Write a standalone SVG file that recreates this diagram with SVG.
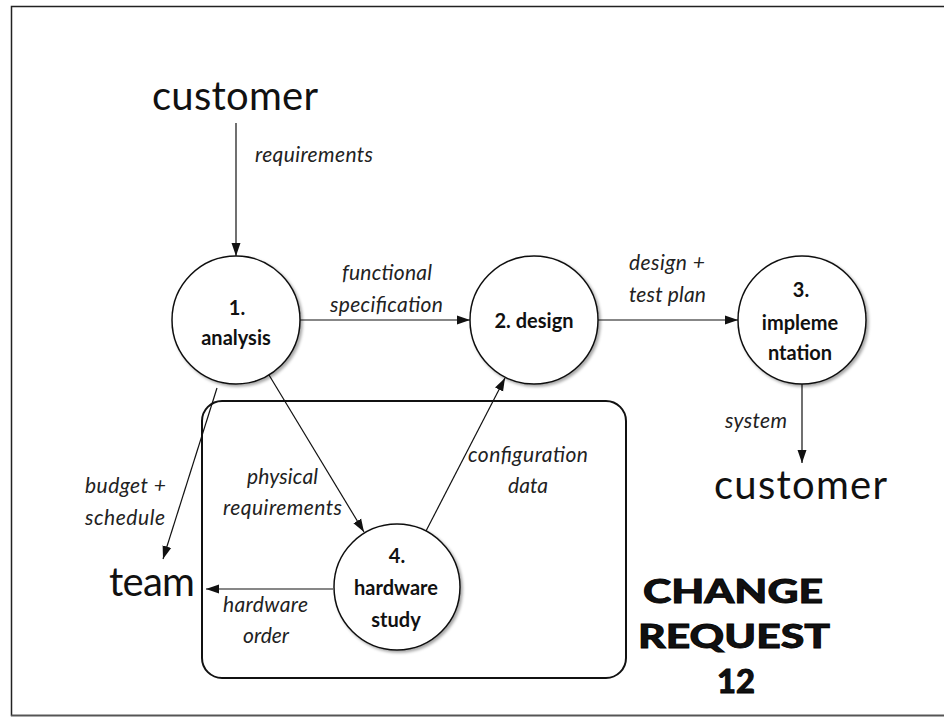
<svg xmlns="http://www.w3.org/2000/svg" width="944" height="717" viewBox="0 0 944 717">
<style>
  text { font-family: Lato, "Open Sans", "Liberation Sans", sans-serif; fill: #111; }
  .big { font-size: 40px; }
  .lbl { font-size: 21px; font-style: italic; fill: #222; }
  .nd { font-size: 20px; font-weight: bold; text-anchor: middle; }
  .cr { font-size: 33px; font-weight: 900; text-anchor: middle; stroke: #000; stroke-width: 0.8; }
  .circ { fill: #fff; stroke: #111; stroke-width: 1.5; filter: url(#sh); }
  .conn line { stroke: #111; stroke-width: 1.2; marker-end: url(#ah); }
</style>
<defs>
  <filter id="sh" x="-20%" y="-20%" width="140%" height="140%">
    <feDropShadow dx="2" dy="2" stdDeviation="1.5" flood-color="#000" flood-opacity="0.35"/>
  </filter>
  <marker id="ah" markerUnits="userSpaceOnUse" markerWidth="14" markerHeight="12" viewBox="0 0 14 12" refX="13" refY="6" orient="auto">
    <path d="M0,1.5 L13,6 L0,10.5 Z" fill="#111"/>
  </marker>
</defs>
<rect x="11.5" y="6.5" width="960" height="709" fill="none" stroke="#222" stroke-width="1.5"/>
<line x1="11" y1="715.5" x2="944" y2="715.5" stroke="#555" stroke-width="1.5"/>

<rect id="boundary" x="202" y="401" width="424" height="277" rx="20" ry="20" fill="none" stroke="#111" stroke-width="2"/>

<g class="conn" id="connectors">
  <line x1="236" y1="123" x2="236" y2="256"/>
  <line x1="300" y1="320" x2="470" y2="320"/>
  <line x1="598" y1="320" x2="738" y2="320"/>
  <line x1="802" y1="384" x2="802" y2="463"/>
  <line x1="269" y1="375" x2="364" y2="532"/>
  <line x1="217" y1="388" x2="163" y2="559"/>
  <line x1="426" y1="531" x2="505" y2="378"/>
  <line x1="333" y1="589" x2="206" y2="589"/>
</g>

<g id="labels">
  <text class="lbl" x="255" y="162" textLength="118" lengthAdjust="spacing">requirements</text>
  <text class="lbl" x="342" y="280" textLength="90" lengthAdjust="spacing">functional</text>
  <text class="lbl" x="330" y="312" textLength="113" lengthAdjust="spacing">specification</text>
  <text class="lbl" x="629" y="270" textLength="76" lengthAdjust="spacing">design +</text>
  <text class="lbl" x="629" y="302" textLength="77" lengthAdjust="spacing">test plan</text>
  <text class="lbl" x="725" y="428" textLength="62" lengthAdjust="spacing">system</text>
  <text class="lbl" x="247" y="484" textLength="71" lengthAdjust="spacing">physical</text>
  <text class="lbl" x="223" y="515" textLength="119" lengthAdjust="spacing">requirements</text>
  <text class="lbl" x="85" y="493" textLength="81" lengthAdjust="spacing">budget +</text>
  <text class="lbl" x="85" y="525" textLength="80" lengthAdjust="spacing">schedule</text>
  <text class="lbl" x="468" y="462" textLength="120" lengthAdjust="spacing">configuration</text>
  <text class="lbl" x="528" y="493" text-anchor="middle">data</text>
  <text class="lbl" x="223" y="612" textLength="85" lengthAdjust="spacing">hardware</text>
  <text class="lbl" x="266" y="643" text-anchor="middle">order</text>
</g>

<g id="customer-top"><text class="big" x="152" y="110" textLength="166" lengthAdjust="spacing">customer</text></g>
<g id="customer-bottom"><text class="big" x="714" y="499" textLength="173" lengthAdjust="spacing">customer</text></g>
<g id="team"><text class="big" x="109" y="596" textLength="86" lengthAdjust="spacing">team</text></g>

<g id="n1">
  <circle class="circ" cx="236" cy="320" r="64"/>
  <text class="nd" x="237" y="315">1.</text>
  <text class="nd" x="236" y="345">analysis</text>
</g>
<g id="n2">
  <circle class="circ" cx="534" cy="320" r="64"/>
  <text class="nd" x="534" y="328">2. design</text>
</g>
<g id="n3">
  <circle class="circ" cx="802" cy="320" r="64"/>
  <text class="nd" x="801" y="297">3.</text>
  <text class="nd" x="800" y="330">impleme</text>
  <text class="nd" x="800" y="360">ntation</text>
</g>
<g id="n4">
  <circle class="circ" cx="397" cy="587" r="63"/>
  <text class="nd" x="397" y="563">4.</text>
  <text class="nd" x="396" y="595">hardware</text>
  <text class="nd" x="396" y="627">study</text>
</g>

<g id="change-request">
  <text class="cr" x="733" y="603" textLength="180" lengthAdjust="spacingAndGlyphs">CHANGE</text>
  <text class="cr" x="734" y="648" textLength="192" lengthAdjust="spacingAndGlyphs">REQUEST</text>
  <text class="cr" x="736" y="693" textLength="38" lengthAdjust="spacingAndGlyphs">12</text>
</g>
</svg>
